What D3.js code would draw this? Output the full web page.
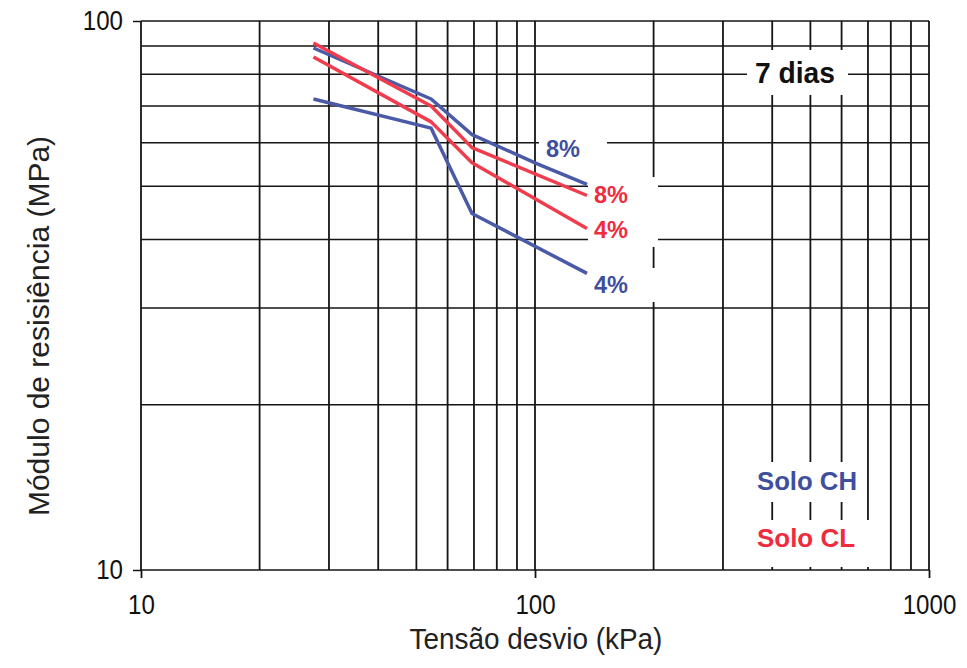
<!DOCTYPE html>
<html>
<head>
<meta charset="utf-8">
<script src="https://cdn.jsdelivr.net/npm/d3@7"></script>
<style>
  body { margin: 0; background: #fff; }
  svg { display: block; font-family: "Liberation Sans", Arial, sans-serif; }
</style>
</head>
<body>
<div id="chart"></div>
<script>
// Data (tensão desvio kPa vs módulo MPa, 7 dias)
const xCH8 = [27.4, 54.5, 69.2, 101, 135.5];
const ch8 = [89.3, 72.1, 62.1, 55.0, 50.4];
const xOther = [27.4, 54.5, 69.2, 135.5];
const cl8 = [91.2, 70.0, 58.8, 48.1];
const cl4 = [86.0, 65.5, 55.2, 41.9];
const ch4 = [72.1, 63.8, 44.6, 34.7];

const xGrid = [10, 20, 30, 40, 50, 60, 70, 80, 90, 100, 200, 300, 400, 500, 600, 700, 800, 900, 1000];
const yGrid = [10, 20, 30, 40, 50, 60, 70, 80, 90, 100];
const xTickLabels = [10, 100, 1000];
const yTickLabels = [10, 100];

const BLUE = '#4a5aa6';
const RED = '#f03c4c';
const BLUE_TXT = '#3f4f9d';
const RED_TXT = '#ee2c3e';

const W = 967, H = 668;
const margin = { top: 21, right: 38, bottom: 98, left: 141 };

const svg = d3.select('#chart').append('svg')
  .attr('width', W)
  .attr('height', H);

svg.append('rect').attr('width', W).attr('height', H).attr('fill', '#fff');

const x = d3.scaleLog().domain([10, 1000]).range([margin.left, W - margin.right]);
const y = d3.scaleLog().domain([10, 100]).range([H - margin.bottom, margin.top]);

// squeeze text horizontally (the scan is a bit narrow)
function squeeze(sel, k) {
  sel.each(function() {
    const len = this.getComputedTextLength();
    d3.select(this).attr('textLength', len * k).attr('lengthAdjust', 'spacingAndGlyphs');
  });
}

// grid
svg.append('g').selectAll('line')
  .data(xGrid)
  .enter().append('line')
  .attr('x1', d => x(d)).attr('x2', d => x(d))
  .attr('y1', y(100)).attr('y2', y(10))
  .attr('stroke', '#151515')
  .attr('stroke-width', 1.8);

svg.append('g').selectAll('line')
  .data(yGrid)
  .enter().append('line')
  .attr('x1', x(10)).attr('x2', x(1000))
  .attr('y1', d => y(d)).attr('y2', d => y(d))
  .attr('stroke', '#151515')
  .attr('stroke-width', 1.5);

// axes (ticks + labels)
const yAxis = svg.append('g')
  .attr('transform', `translate(${x(10)},0)`)
  .call(d3.axisLeft(y).tickValues(yTickLabels).tickSize(8).tickSizeOuter(0).tickPadding(10).tickFormat(d3.format('d')));
yAxis.select('.domain').remove();
yAxis.selectAll('line').attr('stroke', '#151515').attr('stroke-width', 1.5);
yAxis.selectAll('text')
  .attr('fill', '#111')
  .style('font-size', '28px')
  .style('font-family', '"Liberation Sans", Arial, sans-serif')
  .call(squeeze, 0.86);

const xAxis = svg.append('g')
  .attr('transform', `translate(0,${y(10)})`)
  .call(d3.axisBottom(x).tickValues(xTickLabels).tickSize(8).tickSizeOuter(0).tickPadding(16).tickFormat(d3.format('d')));
xAxis.select('.domain').remove();
xAxis.selectAll('line').attr('stroke', '#151515').attr('stroke-width', 1.8);
xAxis.selectAll('text')
  .attr('fill', '#111')
  .style('font-size', '28px')
  .style('font-family', '"Liberation Sans", Arial, sans-serif')
  .call(squeeze, 0.86);

// axis titles
svg.append('text')
  .attr('x', 536)
  .attr('y', 649)
  .attr('text-anchor', 'middle')
  .attr('fill', '#222')
  .style('font-size', '30px')
  .text('Tensão desvio (kPa)')
  .call(squeeze, 0.93);

svg.append('text')
  .attr('transform', 'translate(49,326) rotate(-90)')
  .attr('text-anchor', 'middle')
  .attr('fill', '#222')
  .style('font-size', '30px')
  .text('Módulo de resisiência (MPa)');

// white boxes behind the annotations
const boxes = [
  { x0: 747, y0: 50, x1: 848, y1: 95 },
  { x0: 539, y0: 132, x1: 607, y1: 161 },
  { x0: 588, y0: 177, x1: 658, y1: 247 },
  { x0: 588, y0: 268, x1: 658, y1: 302 },
  { x0: 748, y0: 462, x1: 862, y1: 502 },
  { x0: 748, y0: 520, x1: 871, y1: 567 }
];
svg.append('g').selectAll('rect')
  .data(boxes)
  .enter().append('rect')
  .attr('x', d => d.x0).attr('y', d => d.y0)
  .attr('width', d => d.x1 - d.x0).attr('height', d => d.y1 - d.y0)
  .attr('fill', '#fff');

// series
const series = [
  { xs: xCH8, ys: ch8, color: BLUE },
  { xs: xOther, ys: cl8, color: RED },
  { xs: xOther, ys: cl4, color: RED },
  { xs: xOther, ys: ch4, color: BLUE }
];

const line = d3.line()
  .x(d => x(d[0]))
  .y(d => y(d[1]));

svg.append('g').selectAll('path')
  .data(series)
  .enter().append('path')
  .attr('d', d => line(d.xs.map((v, i) => [v, d.ys[i]])))
  .attr('fill', 'none')
  .attr('stroke', d => d.color)
  .attr('stroke-width', 3.5)
  .attr('stroke-linejoin', 'round');

// annotations
const labels = [
  { text: '7 dias', x: 795, y: 83, size: 30, len: 80, color: '#111', anchor: 'middle' },
  { text: '8%', x: 563, y: 157, size: 23, len: 34, color: BLUE_TXT, anchor: 'middle' },
  { text: '8%', x: 611, y: 203, size: 23, len: 34, color: RED_TXT, anchor: 'middle' },
  { text: '4%', x: 611, y: 238, size: 23, len: 34, color: RED_TXT, anchor: 'middle' },
  { text: '4%', x: 611, y: 293, size: 23, len: 34, color: BLUE_TXT, anchor: 'middle' },
  { text: 'Solo CH', x: 757, y: 490, size: 25, len: 100, color: BLUE_TXT, anchor: 'start' },
  { text: 'Solo CL', x: 757, y: 547, size: 25, len: 98, color: RED_TXT, anchor: 'start' }
];

svg.append('g').selectAll('text')
  .data(labels)
  .enter().append('text')
  .attr('x', d => d.x)
  .attr('y', d => d.y)
  .attr('text-anchor', d => d.anchor)
  .attr('fill', d => d.color)
  .attr('textLength', d => d.len)
  .attr('lengthAdjust', 'spacingAndGlyphs')
  .style('font-size', d => d.size + 'px')
  .style('font-weight', 'bold')
  .text(d => d.text);
</script>
</body>
</html>
